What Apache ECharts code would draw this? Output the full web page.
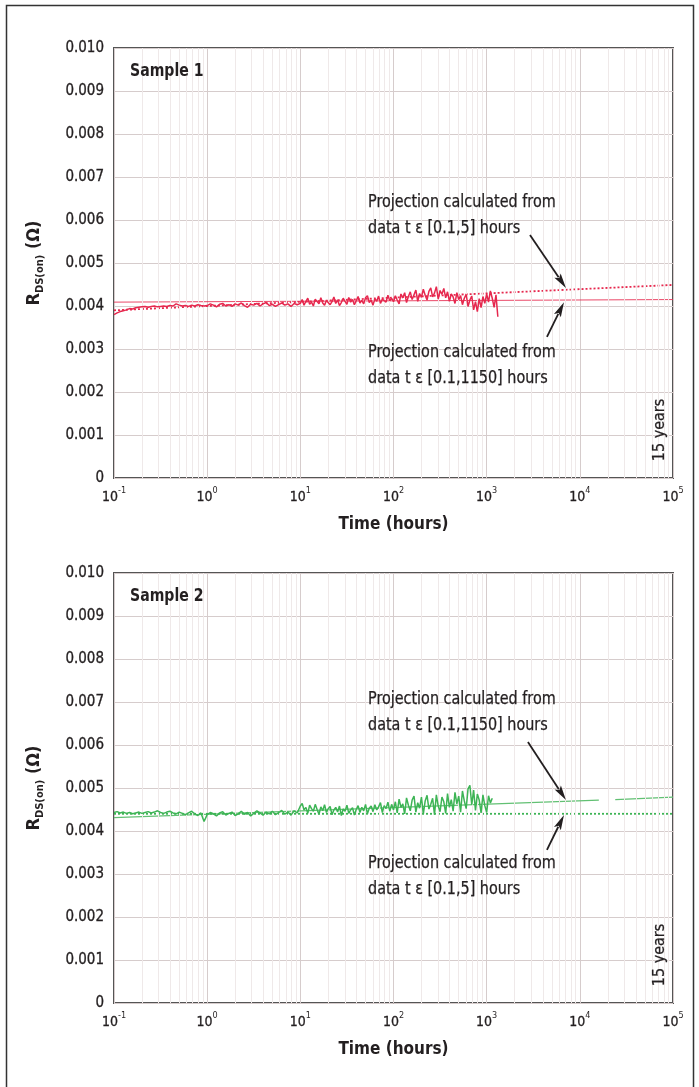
<!DOCTYPE html>
<html><head><meta charset="utf-8">
<script src="https://cdn.jsdelivr.net/npm/echarts@6/dist/echarts.min.js"></script>
<style>html,body{margin:0;padding:0;background:#fff}#c{width:699px;height:1087px}</style>
</head><body><div id="c"></div>
<script>
const FONT = "'Liberation Sans Narrow','DejaVu Sans Condensed','Liberation Sans',sans-serif";
const INK = '#231f20';
const RED = '#e6284e';
const GREEN = '#3db455';

// time stamps (hours)
const times = [
0.1,0.108,0.1166,0.1259,0.1359,0.1468,0.1585,0.1711,0.1848,0.1995,0.2154,0.2326,0.2512,0.2712,0.2929,0.3162,0.3415,0.3687,0.3981,0.4299,0.4642,0.5012,0.5412,0.5843,0.631,0.6813,0.7356,0.7943,0.8577,0.9261,
1,1.08,1.166,1.259,1.359,1.468,1.585,1.711,1.848,1.995,2.154,2.326,2.512,2.712,2.929,3.162,3.415,3.687,3.981,4.299,4.642,5.012,5.412,5.843,6.31,6.813,7.356,7.943,8.577,9.261,
10,10.47,10.96,11.48,12.02,12.59,13.18,13.8,14.45,15.14,15.85,16.6,17.38,18.2,19.05,19.95,20.89,21.88,22.91,23.99,25.12,26.3,27.54,28.84,30.2,31.62,33.11,34.67,36.31,38.02,39.81,41.69,43.65,45.71,47.86,50.12,52.48,54.95,57.54,60.26,63.1,66.07,69.18,72.44,75.86,79.43,83.18,87.1,91.2,95.5,
100,104.7,109.6,114.8,120.2,125.9,131.8,138,144.5,151.4,158.5,166,173.8,182,190.5,199.5,208.9,218.8,229.1,239.9,251.2,263,275.4,288.4,302,316.2,331.1,346.7,363.1,380.2,398.1,416.9,436.5,457.1,478.6,501.2,524.8,549.5,575.4,602.6,631,660.7,691.8,724.4,758.6,794.3,831.8,871,912,955,
1000,1047,1096,1148,1202,1259,1318
];

// Sample 1 RDS(on) (ohm)
const sample1 = [
0.00380,0.00384,0.00387,0.00389,0.00391,0.00394,0.00393,0.00396,0.00397,0.00398,0.00399,0.00397,0.00399,0.00400,0.00398,0.00399,0.00400,0.00399,0.00401,0.00400,0.00405,0.00402,0.00400,0.00401,0.00399,0.00402,0.00400,0.00403,0.00401,0.00400,
0.00401,0.00405,0.00402,0.00398,0.00404,0.00406,0.00400,0.00403,0.00399,0.00405,0.00402,0.00407,0.00401,0.00397,0.00404,0.00402,0.00406,0.00400,0.00405,0.00408,0.00401,0.00404,0.00399,0.00403,0.00407,0.00402,0.00405,0.00399,0.00406,0.00403,
0.00406,0.00415,0.00402,0.00411,0.00418,0.00404,0.00409,0.00400,0.00416,0.00412,
0.00405,0.00419,0.00407,0.00402,0.00413,0.00417,0.00403,0.00410,0.00421,0.00406,
0.00414,0.00401,0.00408,0.00418,0.00411,0.00404,0.00420,0.00409,0.00415,0.00403,
0.00412,0.00422,0.00407,0.00413,0.00405,0.00419,0.00424,0.00408,0.00414,0.00402,
0.00417,0.00411,0.00423,0.00406,0.00416,0.00420,0.00409,0.00425,0.00412,0.00418,
0.00410,0.00424,0.00414,0.00405,0.00428,0.00419,0.00431,0.00408,0.00422,0.00433,
0.00415,0.00426,0.00437,0.00411,0.00429,0.00420,0.00439,0.00425,0.00414,0.00434,
0.00442,0.00421,0.00430,0.00445,0.00416,0.00436,0.00427,0.00441,0.00419,0.00433,
0.00411,0.00428,0.00421,0.00406,0.00431,0.00415,0.00424,0.00403,0.00418,0.00427,
0.00399,0.00414,0.00423,0.00391,0.00410,0.00387,0.00417,0.00396,0.00422,0.00406,
0.00428,0.00409,0.00435,0.00418,0.00397,0.00426,0.00375
];

// Sample 2 RDS(on) (ohm)
const sample2 = [
0.00443,0.00445,0.00442,0.00444,0.00441,0.00443,0.00440,0.00442,0.00444,0.00441,0.00443,0.00445,0.00442,0.00444,0.00447,0.00443,0.00441,0.00444,0.00446,0.00442,0.00440,0.00444,0.00441,0.00438,0.00442,0.00446,0.00440,0.00436,0.00442,0.00422,
0.00438,0.00443,0.00440,0.00435,0.00442,0.00445,0.00437,0.00441,0.00444,0.00436,0.00440,0.00446,0.00439,0.00443,0.00435,0.00441,0.00447,0.00442,0.00437,0.00444,0.00440,0.00446,0.00438,0.00443,0.00448,0.00439,0.00444,0.00437,0.00447,0.00442,
0.00458,0.00464,0.00449,0.00455,0.00441,0.00460,0.00452,0.00446,0.00462,0.00450,
0.00439,0.00456,0.00447,0.00461,0.00443,0.00452,0.00457,0.00438,0.00449,0.00455,
0.00444,0.00458,0.00436,0.00451,0.00446,0.00460,0.00441,0.00449,0.00454,0.00437,
0.00450,0.00459,0.00443,0.00455,0.00447,0.00462,0.00440,0.00453,0.00458,0.00445,
0.00461,0.00449,0.00456,0.00466,0.00443,0.00459,0.00452,0.00467,0.00446,0.00462,
0.00449,0.00468,0.00442,0.00474,0.00455,0.00463,0.00440,0.00477,0.00460,0.00447,
0.00472,0.00481,0.00444,0.00466,0.00453,0.00479,0.00439,0.00470,0.00483,0.00451,
0.00462,0.00476,0.00438,0.00484,0.00458,0.00445,0.00479,0.00468,0.00441,0.00487,
0.00455,0.00473,0.00446,0.00490,0.00463,0.00481,0.00444,0.00493,0.00470,0.00452,
0.00498,0.00506,0.00461,0.00495,0.00448,0.00486,0.00472,0.00442,0.00484,0.00459,
0.00443,0.00482,0.00465,0.00476
];

// projections [time, value]
const proj1Short = [[0.1, 0.00390], [100000, 0.00449]];   // from t in [0.1,5]
const proj1Long  = [[0.1, 0.00409], [100000, 0.00415]];   // from t in [0.1,1150]
const proj2Short = [[0.1, 0.00440], [100000, 0.00440]];   // from t in [0.1,5]
const proj2Long  = [[0.1, 0.00431], [16000, 0.00472], [20000, '-'], [24000, 0.00473], [100000, 0.00479]]; // from t in [0.1,1150]

const xTickExponents = ['-1','0','1','2','3','4','5'];
const yTickLabels = ['0','0.001','0.002','0.003','0.004','0.005','0.006','0.007','0.008','0.009','0.010'];
const sampleTitles = ['Sample 1', 'Sample 2'];

// arrows: [tailTime, tailValue, headTime, headValue]
const arrows1 = [[2917, 0.00565, 7096, 0.00442], [4436, 0.00328, 6761, 0.00409]];
const arrows2 = [[2773, 0.00607, 7096, 0.00472], [4436, 0.00356, 6761, 0.00437]];

const minorX = [];
for (let k = -1; k < 5; k++) for (let m = 2; m <= 9; m++) minorX.push(m * Math.pow(10, k));

function pairs(vals) { return vals.map((v, i) => [times[i], v]); }

const HEAVY = { textBorderColor: INK, textBorderWidth: 0.3 };

function xAxisCfg(gi) {
  return {
    type: 'log', logBase: 10, gridIndex: gi, min: 0.1, max: 100000, splitNumber: 6,
    axisLine: { show: false }, axisTick: { show: false },
    splitLine: { show: true, lineStyle: { color: '#d6cccc', width: 1 } },
    axisLabel: {
      margin: 8,
      formatter: v => '{b|10}{s|' + xTickExponents[Math.round(Math.log10(v)) + 1] + '}',
      rich: {
        b: Object.assign({ fontFamily: FONT, fontSize: 14, color: INK, lineHeight: 18, verticalAlign: 'bottom' }, HEAVY),
        s: { fontFamily: FONT, fontSize: 9, color: INK, lineHeight: 18, verticalAlign: 'top' }
      }
    },
    name: 'Time (hours)', nameLocation: 'middle', nameGap: 38,
    nameTextStyle: { fontFamily: FONT, fontWeight: 'bold', fontSize: 17, color: INK }
  };
}
function yAxisCfg(gi) {
  return {
    type: 'value', gridIndex: gi, min: 0, max: 0.01, interval: 0.001,
    axisLine: { show: false }, axisTick: { show: false },
    splitLine: { lineStyle: { color: '#d6cccc', width: 1 } },
    axisLabel: Object.assign({ margin: 10, fontFamily: FONT, fontSize: 15, color: INK,
      formatter: v => yTickLabels[Math.round(v * 1000)] }, HEAVY),
    name: '{r|R}{s|DS(on)}{r| (Ω)}', nameLocation: 'middle', nameGap: 68,
    nameTextStyle: {
      fontFamily: FONT, fontWeight: 'bold', fontSize: 18, color: INK,
      rich: {
        r: { fontFamily: FONT, fontWeight: 'bold', fontSize: 18, color: INK, lineHeight: 24, verticalAlign: 'middle' },
        s: { fontFamily: FONT, fontWeight: 'bold', fontSize: 11, color: INK, lineHeight: 24, verticalAlign: 'bottom' }
      }
    }
  };
}

const minorMark = {
  silent: true, symbol: ['none', 'none'], label: { show: false }, animation: false,
  emphasis: { disabled: true },
  lineStyle: { color: '#efe9e9', width: 1, type: 'solid' },
  data: minorX.map(v => ({ xAxis: v }))
};

const chart = echarts.init(document.getElementById('c'), null, { renderer: 'canvas' });
chart.setOption({
  animation: false,
  backgroundColor: '#fff',
  grid: [
    { left: 114, top: 48, width: 559, height: 430, show: true, borderColor: '#555', borderWidth: 2 },
    { left: 114, top: 573, width: 559, height: 430, show: true, borderColor: '#555', borderWidth: 2 }
  ],
  xAxis: [xAxisCfg(0), xAxisCfg(1)],
  yAxis: [yAxisCfg(0), yAxisCfg(1)],
  series: [
    { type: 'line', xAxisIndex: 0, yAxisIndex: 0, data: proj1Long, showSymbol: false, z: 2,
      lineStyle: { color: RED, width: 1, opacity: 0.85 }, markLine: minorMark, silent: true },
    { type: 'line', xAxisIndex: 0, yAxisIndex: 0, data: proj1Short, showSymbol: false, z: 3,
      lineStyle: { color: RED, width: 1.8, type: [2, 2] }, silent: true },
    { type: 'line', xAxisIndex: 0, yAxisIndex: 0, data: pairs(sample1), showSymbol: false, z: 5,
      lineStyle: { color: RED, width: 1.5 }, silent: true },
    { type: 'line', xAxisIndex: 1, yAxisIndex: 1, data: proj2Long, showSymbol: false, z: 2, connectNulls: false,
      lineStyle: { color: '#62c073', width: 1.3 }, markLine: minorMark, silent: true },
    { type: 'line', xAxisIndex: 1, yAxisIndex: 1, data: proj2Short, showSymbol: false, z: 3,
      lineStyle: { color: GREEN, width: 1.8, type: [2, 2] }, silent: true },
    { type: 'line', xAxisIndex: 1, yAxisIndex: 1, data: pairs(sample2), showSymbol: false, z: 5,
      lineStyle: { color: GREEN, width: 1.5 }, silent: true }
  ]
});

function arrowEls(gi, list) {
  const els = [];
  list.forEach(a => {
    const p0 = chart.convertToPixel({ gridIndex: gi }, [a[0], a[1]]);
    const p1 = chart.convertToPixel({ gridIndex: gi }, [a[2], a[3]]);
    const dx = p1[0] - p0[0], dy = p1[1] - p0[1];
    const len = Math.sqrt(dx * dx + dy * dy);
    const ux = dx / len, uy = dy / len;
    const hl = 15, hw = 3.8;
    const bx = p1[0] - ux * hl, by = p1[1] - uy * hl;
    els.push({ type: 'line', silent: true, z: 20,
      shape: { x1: p0[0], y1: p0[1], x2: bx + ux * 2, y2: by + uy * 2 },
      style: { stroke: INK, lineWidth: 1.8 } });
    els.push({ type: 'polygon', silent: true, z: 20,
      shape: { points: [[p1[0], p1[1]], [bx - uy * hw, by + ux * hw], [bx + ux * 3, by + uy * 3], [bx + uy * hw, by - ux * hw]] },
      style: { fill: INK } });
  });
  return els;
}

function txt(x, y, text, opts, extra) {
  return Object.assign({ type: 'text', x: x, y: y, silent: true, z: 20,
    style: Object.assign({ text: text, fontFamily: FONT, fontSize: 17, fill: INK, stroke: INK, lineWidth: 0.25,
      align: 'left', verticalAlign: 'top', lineHeight: 26 }, opts || {}) }, extra || {});
}

const graphics = [
  { type: 'rect', silent: true, z: 30, shape: { x: 6.5, y: 5.5, width: 687, height: 1100 },
    style: { fill: 'none', stroke: '#333', lineWidth: 1.5 } },
  txt(130, 71, sampleTitles[0], { fontWeight: 'bold', fontSize: 18, verticalAlign: 'middle', lineWidth: 0 }, { scaleX: 0.87 }),
  txt(130, 596, sampleTitles[1], { fontWeight: 'bold', fontSize: 18, verticalAlign: 'middle', lineWidth: 0 }, { scaleX: 0.87 }),
  txt(368, 190, 'Projection calculated from\ndata t ε [0.1,5] hours', null, { scaleX: 0.94 }),
  txt(368, 340, 'Projection calculated from\ndata t ε [0.1,1150] hours', null, { scaleX: 0.94 }),
  txt(368, 687, 'Projection calculated from\ndata t ε [0.1,1150] hours', null, { scaleX: 0.94 }),
  txt(368, 851, 'Projection calculated from\ndata t ε [0.1,5] hours', null, { scaleX: 0.94 }),
  txt(660, 430, '15 years', { align: 'center', verticalAlign: 'middle', fontSize: 16 }, { rotation: Math.PI / 2 }),
  txt(660, 955, '15 years', { align: 'center', verticalAlign: 'middle', fontSize: 16 }, { rotation: Math.PI / 2 })
].concat(arrowEls(0, arrows1), arrowEls(1, arrows2));

chart.setOption({ graphic: graphics });
</script>
</body></html>
